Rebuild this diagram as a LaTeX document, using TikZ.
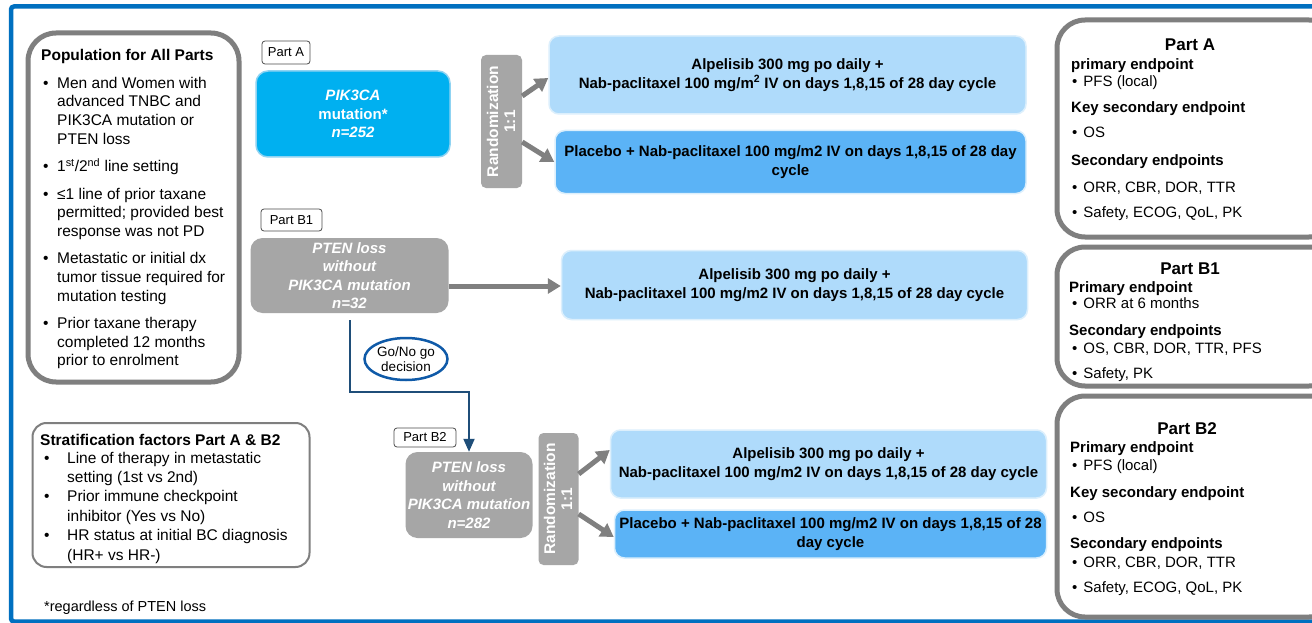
\documentclass[tikz,border=0pt]{standalone}
\usepackage{fontspec}
\setmainfont{Liberation Sans}
\usetikzlibrary{arrows.meta,shapes.geometric}
\definecolor{frameblue}{HTML}{0070C0}
\definecolor{cyanbox}{HTML}{00B0F0}
\definecolor{cyanedge}{HTML}{8FD3F2}
\definecolor{lightblue}{HTML}{AFDBFB}
\definecolor{midblue}{HTML}{5BB3F6}
\definecolor{boxedge}{HTML}{DCEFFC}
\definecolor{grayfill}{HTML}{A6A6A6}
\definecolor{grayline}{HTML}{7F7F7F}
\definecolor{arrowgray}{HTML}{808080}
\definecolor{navy}{HTML}{1F4E79}
\definecolor{ovalblue}{HTML}{0F5AA8}
\tikzset{
  bigframe/.style={draw=grayline, line width=5pt, rounded corners=28pt},
  thinframe/.style={draw=grayline, line width=2pt, rounded corners=14pt},
  partlabel/.style={draw=black!70, line width=0.8pt, rounded corners=3pt, fill=white, font=\fontsize{13}{15}\selectfont, inner sep=0pt},
  cohort/.style={rounded corners=12pt, inner sep=0pt, align=center, text=white, font=\fontsize{15}{18.5}\selectfont\bfseries\itshape},
  randbox/.style={fill=grayfill, rounded corners=5pt, inner sep=0pt},
  treatA/.style={fill=lightblue, draw=boxedge, line width=1.5pt, rounded corners=10pt, inner sep=0pt, align=center, font=\fontsize{15}{18.5}\selectfont\bfseries},
  treatB/.style={fill=midblue, draw=boxedge, line width=1.5pt, rounded corners=10pt, inner sep=0pt, align=center, font=\fontsize{15}{18.5}\selectfont\bfseries},
  grayarrow/.style={draw=arrowgray, line width=5pt, -{Triangle[width=15pt,length=13pt]}, fill=arrowgray},
  btxt/.style={anchor=base west, inner sep=0pt, font=\fontsize{15}{18}\selectfont\bfseries},
  rtxt/.style={anchor=base west, inner sep=0pt, font=\fontsize{15}{18}\selectfont},
}
\begin{document}
\begin{tikzpicture}[x=1pt,y=-1pt]
\useasboundingbox (0,0) rectangle (1312,623);
\fill[white] (0,0) rectangle (1312,623);
\clip (0,0) rectangle (1312,623);
% outer frame
\draw[frameblue, line width=4.5pt, rounded corners=3pt] (11,6.5) rectangle (1340,621.5);

% Population box
\node[bigframe, minimum width=211pt, minimum height=349pt, inner sep=0pt] (pop) at (133.5,207.5) {};
\node[anchor=base west, inner sep=0pt, font=\fontsize{15.5}{18}\selectfont\bfseries] (poptitle) at (41,61) {Population for All Parts};
\node[anchor=north west, inner sep=0pt, align=left, font=\fontsize{15.5}{18.7}\selectfont] (pop1) at (43,76.7) {%
\makebox[14pt][l]{•}Men and Women with\\
\hspace*{14pt}advanced TNBC and\\
\hspace*{14pt}PIK3CA mutation or\\
\hspace*{14pt}PTEN loss\\[9pt]
\makebox[14pt][l]{•}1\textsuperscript{st}/2\textsuperscript{nd} line setting\\[8.5pt]
\makebox[14pt][l]{•}≤1 line of prior taxane\\
\hspace*{14pt}permitted; provided best\\
\hspace*{14pt}response was not PD\\[8.5pt]
\makebox[14pt][l]{•}Metastatic or initial dx\\
\hspace*{14pt}tumor tissue required for\\
\hspace*{14pt}mutation testing\\[8.5pt]
\makebox[14pt][l]{•}Prior taxane therapy\\
\hspace*{14pt}completed 12 months\\
\hspace*{14pt}prior to enrolment};

% Stratification box
\node[thinframe, minimum width=277pt, minimum height=144pt, inner sep=0pt] (strat) at (171,495) {};
\node[anchor=base west, inner sep=0pt, font=\fontsize{15.5}{18}\selectfont\bfseries] (strattitle) at (40,445) {Stratification factors Part A \& B2};
\node[anchor=north west, inner sep=0pt, align=left, font=\fontsize{15.5}{19.4}\selectfont] (strat1) at (44,451.7) {%
\makebox[23pt][l]{•}Line of therapy in metastatic\\
\hspace*{23pt}setting (1st vs 2nd)\\
\makebox[23pt][l]{•}Prior immune checkpoint\\
\hspace*{23pt}inhibitor (Yes vs No)\\
\makebox[23pt][l]{•}HR status at initial BC diagnosis\\
\hspace*{23pt}(HR+ vs HR-)};
\node[anchor=base west, inner sep=0pt, font=\fontsize{14.5}{17}\selectfont] (foot) at (44,611) {*regardless of PTEN loss};

% Part A
\node[partlabel, minimum width=48pt, minimum height=23pt] (labA) at (286,52.5) {Part A};
\node[cohort, fill=cyanbox, draw=cyanedge, line width=1.5pt, minimum width=194pt, minimum height=86pt] (cohA) at (353,114) {PIK3CA\\\upshape mutation*\\n=252};
\node[randbox, minimum width=41pt, minimum height=133pt] (randA) at (501.5,121.5) {};
\node[rotate=90, align=center, text=white, inner sep=0pt, font=\fontsize{15.5}{17}\selectfont\bfseries] (randAt) at (501,121.5) {Randomization\\1:1};
\node[treatA, minimum width=477pt, minimum height=78pt] (trA1) at (787.5,75) {Alpelisib 300 mg po daily +\\Nab-paclitaxel 100 mg/m\textsuperscript{2} IV on days 1,8,15 of 28 day cycle};
\node[treatB, minimum width=471pt, minimum height=63pt] (trA2) at (790.5,162) {Placebo + Nab-paclitaxel 100 mg/m2 IV on days 1,8,15 of 28 day\\cycle};
\draw[grayarrow] (randA.east |- 0,96) -- (trA1.west |- 0,78);
\draw[grayarrow] (randA.east |- 0,142) -- (trA2.west |- 0,162);

% Part B1
\node[partlabel, minimum width=61pt, minimum height=22pt] (labB1) at (291.5,220) {Part B1};
\node[cohort, fill=grayfill, minimum width=198pt, minimum height=75pt] (cohB1) at (349.5,275.5) {PTEN loss\\without\\PIK3CA mutation\\n=32};
\node[treatA, minimum width=466pt, minimum height=69pt] (trB1) at (794.5,285) {Alpelisib 300 mg po daily +\\Nab-paclitaxel 100 mg/m2 IV on days 1,8,15 of 28 day cycle};
\draw[grayarrow] (cohB1.east |- 0,286) -- (trB1.west |- 0,286);

% Go / No go
\coordinate (go1) at (350,320);
\coordinate (go2) at (350,392);
\coordinate (go3) at (469,392);
\node[draw=ovalblue, line width=2.5pt, ellipse, fill=white, minimum width=83pt, minimum height=42pt, inner sep=0pt, align=center, font=\fontsize{13.5}{15.5}\selectfont] (gonogo) at (406,359) {Go/No go\\decision};

% Part B2
\node[partlabel, minimum width=62pt, minimum height=19pt] (labB2) at (425,437.5) {Part B2};
\node[cohort, fill=grayfill, minimum width=127pt, minimum height=86pt] (cohB2) at (469,495) {PTEN loss\\without\\PIK3CA mutation\\n=282};
\draw[navy, line width=2pt, -{Triangle[width=11pt,length=13pt]}] (go1) -- (go2) -- (go3) -- (go3 |- cohB2.north);
\node[randbox, minimum width=40pt, minimum height=132pt] (randB) at (558.5,499) {};
\node[rotate=90, align=center, text=white, inner sep=0pt, font=\fontsize{15.5}{17}\selectfont\bfseries] (randBt) at (558,499) {Randomization\\1:1};
\node[treatA, minimum width=436pt, minimum height=68pt] (trB2a) at (828.5,464) {Alpelisib 300 mg po daily +\\Nab-paclitaxel 100 mg/m2 IV on days 1,8,15 of 28 day cycle};
\node[treatB, minimum width=432pt, minimum height=48pt] (trB2b) at (830.5,534) {Placebo + Nab-paclitaxel 100 mg/m2 IV on days 1,8,15 of 28\\day cycle};
\draw[grayarrow] (randB.east |- 0,474) -- (trB2a.west |- 0,450);
\draw[grayarrow] (randB.east |- 0,514) -- (trB2b.west |- 0,537);

% Right endpoint boxes
\node[bigframe, minimum width=280pt, minimum height=217pt, inner sep=0pt] (epA) at (1197,128.5) {};
\node[anchor=base, inner sep=0pt, font=\fontsize{17}{20}\selectfont\bfseries] (epAt) at (1190,51) {Part A};
\node[btxt] (epA1) at (1071,70) {primary endpoint};
\node[rtxt] (epA2) at (1072,87) {•\hspace{6pt}PFS (local)};
\node[btxt] (epA3) at (1071,113) {Key secondary endpoint};
\node[rtxt] (epA4) at (1072,138) {•\hspace{6pt}OS};
\node[btxt] (epA5) at (1071,165) {Secondary endpoints};
\node[rtxt] (epA6) at (1072,192) {•\hspace{6pt}ORR, CBR, DOR, TTR};
\node[rtxt] (epA7) at (1072,217) {•\hspace{6pt}Safety, ECOG, QoL, PK};

\node[bigframe, minimum width=280pt, minimum height=139pt, inner sep=0pt] (epB1) at (1197,316.5) {};
\node[anchor=base, inner sep=0pt, font=\fontsize{17}{20}\selectfont\bfseries] (epB1t) at (1190,274) {Part B1};
\node[btxt] (epB11) at (1069,292) {Primary endpoint};
\node[rtxt] (epB12) at (1072,308) {•\hspace{6pt}ORR at 6 months};
\node[btxt] (epB13) at (1069,335) {Secondary endpoints};
\node[rtxt] (epB14) at (1072,353) {•\hspace{6pt}OS, CBR, DOR, TTR, PFS};
\node[rtxt] (epB15) at (1072,378) {•\hspace{6pt}Safety, PK};

\node[bigframe, minimum width=280pt, minimum height=221pt, inner sep=0pt] (epB2) at (1197,506.5) {};
\node[anchor=base, inner sep=0pt, font=\fontsize{17}{20}\selectfont\bfseries] (epB2t) at (1187,434) {Part B2};
\node[btxt] (epB21) at (1070,452) {Primary endpoint};
\node[rtxt] (epB22) at (1072,470) {•\hspace{6pt}PFS (local)};
\node[btxt] (epB23) at (1070,497) {Key secondary endpoint};
\node[rtxt] (epB24) at (1072,522) {•\hspace{6pt}OS};
\node[btxt] (epB25) at (1070,548) {Secondary endpoints};
\node[rtxt] (epB26) at (1072,567) {•\hspace{6pt}ORR, CBR, DOR, TTR};
\node[rtxt] (epB27) at (1072,592) {•\hspace{6pt}Safety, ECOG, QoL, PK};
\end{tikzpicture}
\end{document}
